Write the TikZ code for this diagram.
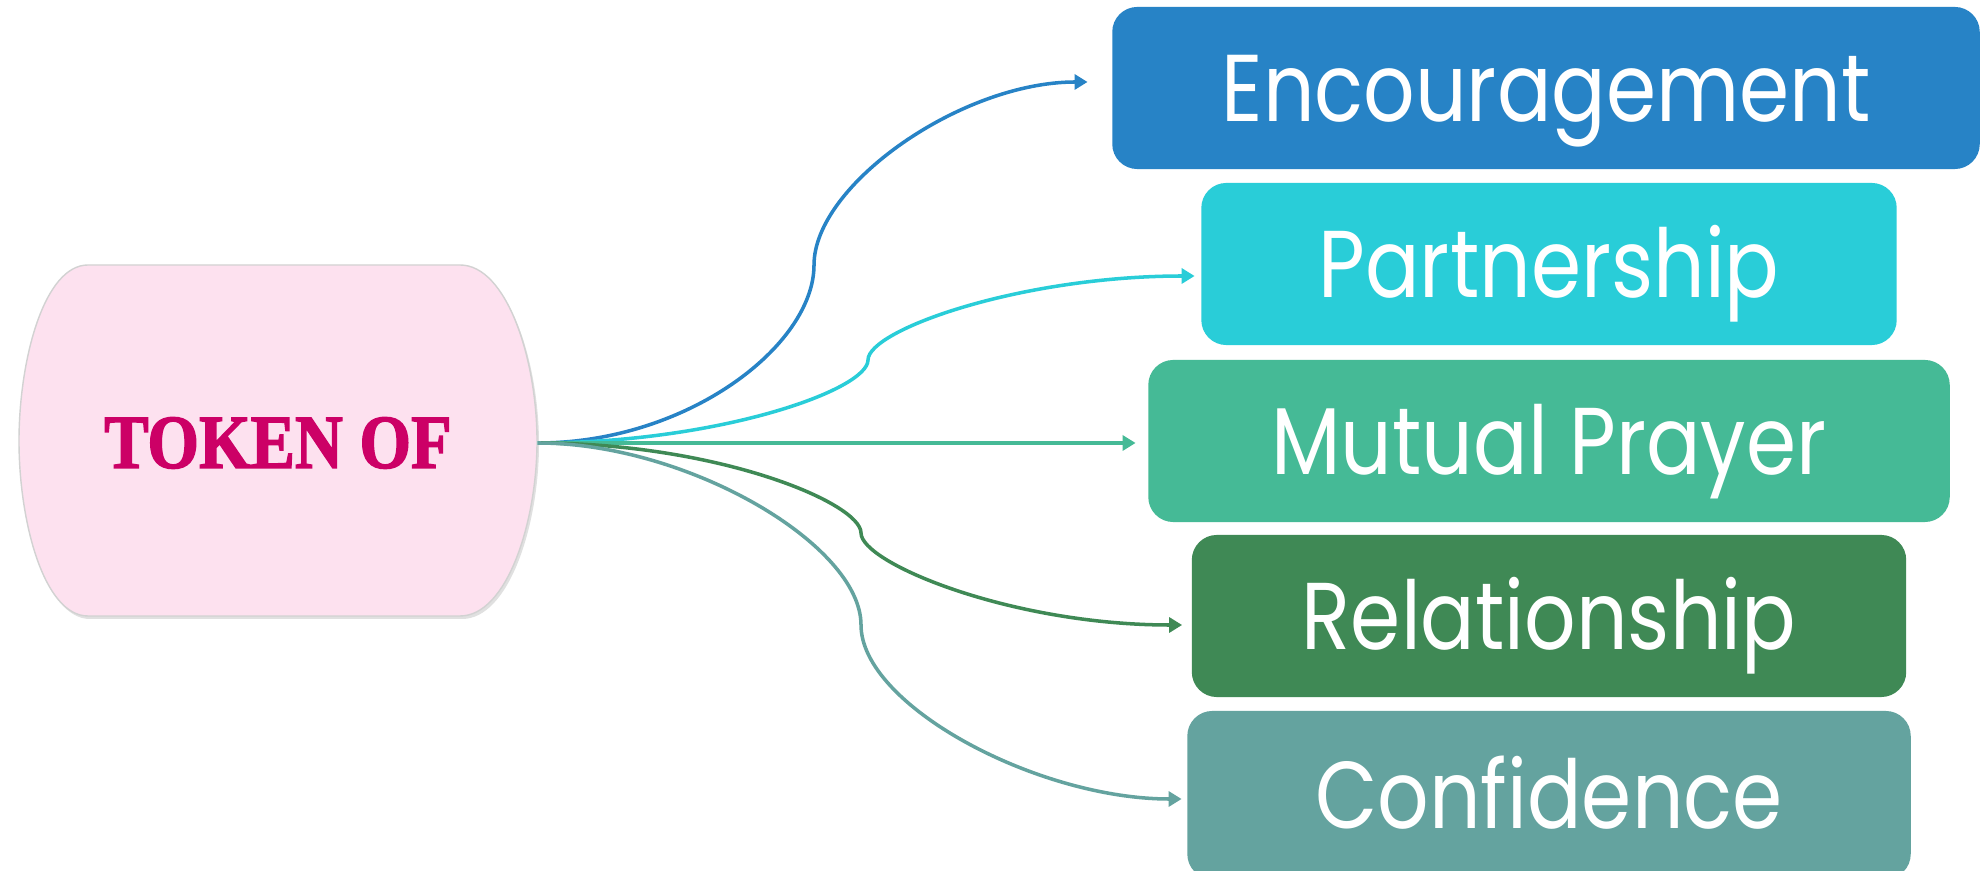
\documentclass[tikz,border=0pt]{standalone}
\usepackage{fontspec}
\usetikzlibrary{arrows.meta}
\newfontfamily\boxfont[FakeStretch=0.85]{Poppins}
\newfontfamily\tokfont[FakeBold=2]{Liberation Serif}
\definecolor{cEnc}{HTML}{2783C6}
\definecolor{cPart}{HTML}{29CDD8}
\definecolor{cMut}{HTML}{45BA96}
\definecolor{cRel}{HTML}{3F8955}
\definecolor{cConf}{HTML}{64A39F}
\definecolor{tokfill}{HTML}{FDE1EF}
\definecolor{tokText}{HTML}{CC0066}
\begin{document}
\begin{tikzpicture}[x=0.01cm,y=-0.01cm,
  box/.style={rounded corners=0.25cm, minimum height=1.62cm, text=white,
    font=\boxfont\fontsize{27}{30}\selectfont, inner sep=0pt,
    text height=0.67cm, text depth=0pt},
  conn/.style={line width=1pt, -{Triangle[length=0.13cm,width=0.15cm]}},
]
\useasboundingbox (0,0) rectangle (1980,871);
\fill[white] (0,0) rectangle (1980,871);
% central shape (soft shadow, then shape)
\fill[black!12, xshift=0.02cm, yshift=-0.03cm]
  (88,265) -- (460,265) .. controls (507,265) and (537,360) .. (537,441)
  .. controls (537,522) and (507,616) .. (460,616) -- (88,616)
  .. controls (44,616) and (19,522) .. (19,441)
  .. controls (19,360) and (44,265) .. (88,265) -- cycle;
\draw[fill=tokfill, draw=gray!35, line width=0.4pt]
  (88,265) -- (460,265) .. controls (507,265) and (537,360) .. (537,441)
  .. controls (537,522) and (507,616) .. (460,616) -- (88,616)
  .. controls (44,616) and (19,522) .. (19,441)
  .. controls (19,360) and (44,265) .. (88,265) -- cycle;
\node[minimum width=5.18cm, minimum height=3.51cm, inner sep=0pt,
  text=tokText, font=\tokfont\bfseries\fontsize{21.7}{24}\selectfont] (tok) at (278,443)
  {\scalebox{0.87}[1]{TOKEN OF}};
% boxes
\node[box, fill=cEnc,  minimum width=8.67cm] (enc)  at (1546,88)  {Encouragement};
\node[box, fill=cPart, minimum width=6.95cm] (part) at (1549,264) {Partnership};
\node[box, fill=cMut,  minimum width=8.01cm] (mut)  at (1549,441) {Mutual Prayer};
\node[box, fill=cRel,  minimum width=7.14cm] (rel)  at (1549,616) {Relationship};
\node[box, fill=cConf, minimum width=7.23cm, minimum height=1.68cm] (conf) at (1549,795) {Confidence};
% bend points
\coordinate (m1) at (814,265);
\coordinate (m2) at (868,360);
\coordinate (m4) at (861,533);
\coordinate (m5) at (861,625);
% connectors
\draw[conn, draw=cEnc, shorten >=0.24cm]
  (tok.east) to[out=0,in=-90,out distance=1.5cm,in distance=0.8cm] (m1)
  to[out=90,in=180,out distance=0.8cm,in distance=1.5cm] ([yshift=0.06cm]enc.west);
\draw[conn, draw=cPart, shorten >=0.06cm]
  (tok.east) to[out=0,in=-90,out distance=1.8cm,in distance=0.3cm] (m2)
  to[out=90,in=180,out distance=0.3cm,in distance=1.8cm] ([yshift=-0.12cm]part.west);
\draw[conn, draw=cMut, shorten >=0.12cm]
  (tok.east) -- ([yshift=-0.02cm]mut.west);
\draw[conn, draw=cRel, shorten >=0.09cm]
  (tok.east) to[out=0,in=90,out distance=1.8cm,in distance=0.3cm] (m4)
  to[out=-90,in=180,out distance=0.3cm,in distance=1.8cm] ([yshift=-0.09cm]rel.west);
\draw[conn, draw=cConf, shorten >=0.05cm]
  (tok.east) to[out=0,in=90,out distance=1.5cm,in distance=0.8cm] (m5)
  to[out=-90,in=180,out distance=0.8cm,in distance=1.5cm] ([yshift=-0.04cm]conf.west);
\end{tikzpicture}
\end{document}
